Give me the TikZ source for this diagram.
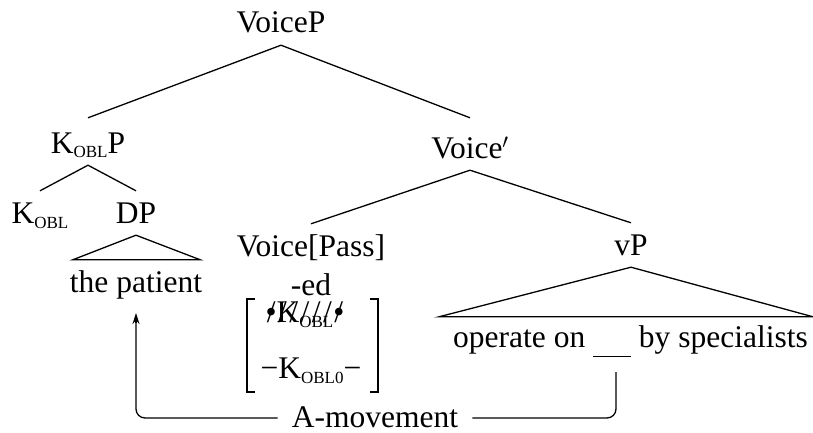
\documentclass[tikz,border=0pt]{standalone}
\usepackage{fontspec}
\setmainfont{Liberation Serif}
\usetikzlibrary{arrows.meta}
% small lowered capitals for case subscripts
\newcommand{\oblsub}[1]{\raisebox{-5pt}{\fontsize{17}{17}\selectfont #1}}
% text overprinted with a row of slashes
\newsavebox{\strikebox}
\newcommand{\slashout}[1]{\sbox{\strikebox}{#1}\rlap{\usebox{\strikebox}}%
  \hbox to \wd\strikebox{\xleaders\hbox to .35em{\hss/\hss}\hfill}}

\begin{document}
\begin{tikzpicture}[x=1pt,y=-1pt,
  lbl/.style={font=\fontsize{31.5}{38}\selectfont, inner xsep=0pt, inner ysep=5pt,
              text height=27pt, text depth=7pt, anchor=base},
  edge/.style={line width=1.3pt},
  brk/.style={line width=1.9pt},
  mvlabel/.style={lbl, inner xsep=14pt, inner ysep=0pt, text height=18pt, text depth=0pt}
]
\useasboundingbox (0,0) rectangle (813,433);

% tree labels
\node[lbl] (VP)    at (281,33)    {VoiceP};
\node[lbl] (KP)    at (88,153)    {K\oblsub{OBL}P};
\node[lbl] (Vbar)  at (470,158)   {Voice$'$};
\node[lbl] (K)     at (40,223)    {K\oblsub{OBL}};
\node[lbl] (DP)    at (136,223)   {DP};
\node[lbl] (pat)   at (136,292)   {the patient};
\node[lbl] (Vpass) at (311,256)   {Voice[Pass]};
\node[lbl] (ed)    at (311,295)   {-ed};
\node[lbl] (f1)    at (305,322)   {\slashout{•K\oblsub{OBL}•}};
\node[lbl] (f2)    at (311,378)   {−K\oblsub{OBL0}−};
\node[lbl] (vP)    at (631,255)   {vP};
\node[lbl] (yield) at (630.5,347) {operate on \rule[-10pt]{38pt}{1.3pt} by specialists};
\node[mvlabel] (amov) at (375,427) {A-movement};

% branches
\draw[edge] (VP.south) -- ([yshift=3pt]KP.north);
\draw[edge] (VP.south) -- ([yshift=8pt]Vbar.north);
\draw[edge] (KP.south) -- (K.north);
\draw[edge] (KP.south) -- (DP.north);
\draw[edge] (Vbar.south) -- (Vpass.north);
\draw[edge] (Vbar.south) -- (vP.north);

% roof triangles
\draw[edge] (DP.south) -- ([xshift=3pt]pat.north west) -- ([xshift=-2pt]pat.north east) -- cycle;
\draw[edge] (vP.south) -- ([xshift=-14pt,yshift=-2pt]yield.north west)
            -- ([xshift=5pt,yshift=-2pt]yield.north east) -- cycle;

% feature matrix brackets
\draw[brk] (255,299) -- (247,299) -- (247,392) -- (255,392);
\draw[brk] (370,299) -- (378,299) -- (378,392) -- (370,392);

% movement arrow: rounded route, then a sharp-cornered tip at the landing site
\coordinate (gap) at (616,372);
\coordinate (land) at ([yshift=-21pt]pat.base);
\draw[edge, rounded corners=9pt] (gap) |- (amov.east);
\draw[edge, rounded corners=9pt] (amov.west) -| ([yshift=-10pt]land);
\draw[edge, -{Stealth[length=11pt,width=7pt]}] ([yshift=-10pt]land) -- (land);
\end{tikzpicture}
\end{document}
